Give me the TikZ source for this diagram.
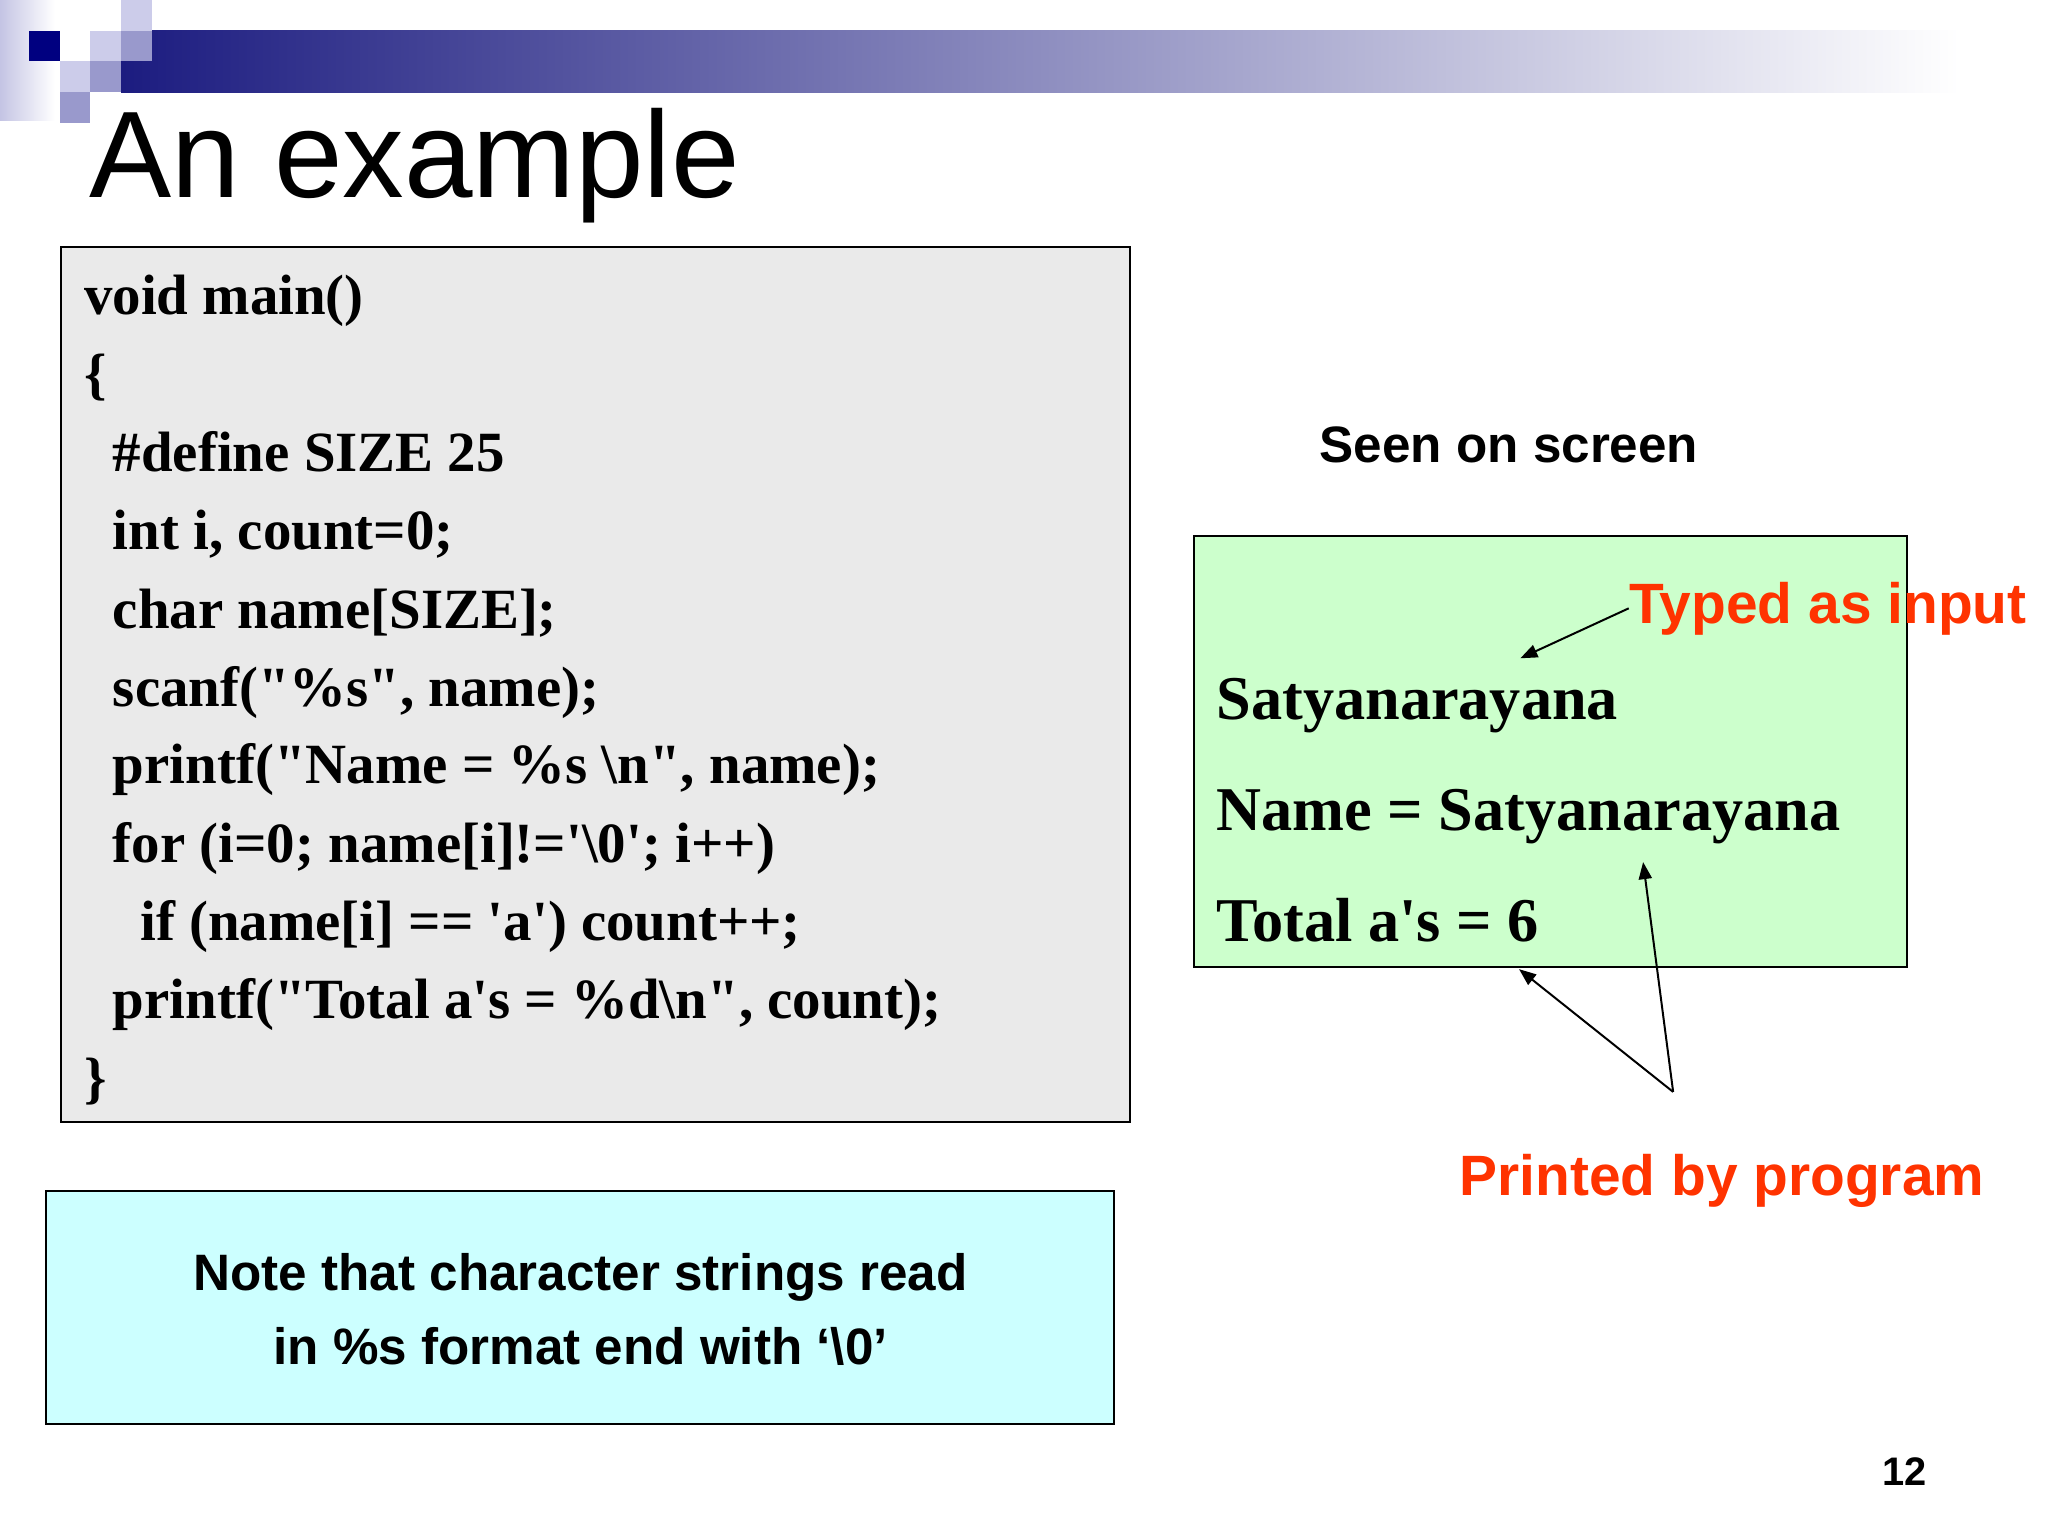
\documentclass[tikz,border=0pt]{standalone}
\usepackage{fontspec}
\newfontfamily\tnr{Liberation Serif}
\newfontfamily\arial{Liberation Sans}
\usetikzlibrary{arrows.meta,fit}
\definecolor{navyA}{RGB}{0,0,128}
\definecolor{barA}{RGB}{28,28,128}
\definecolor{lightsq}{RGB}{204,204,234}
\definecolor{medsq}{RGB}{153,153,204}
\definecolor{stripA}{RGB}{196,196,228}
\definecolor{codefill}{RGB}{234,234,234}
\definecolor{greenfill}{RGB}{204,255,204}
\definecolor{cyanfill}{RGB}{204,255,255}
\definecolor{redtxt}{RGB}{255,51,0}
\begin{document}
\begin{tikzpicture}[x=0.459184pt,y=-0.459184pt,
  box/.style={draw=black, line width=0.7pt, inner sep=0pt},
  codeline/.style={anchor=base west, inner sep=0pt, font=\tnr\bfseries\fontsize{20}{24}\selectfont},
  outline/.style={anchor=base west, inner sep=0pt, font=\tnr\bfseries\fontsize{21.9}{26}\selectfont},
  sanslabel/.style={inner sep=0pt, font=\arial\bfseries\fontsize{18}{22}\selectfont},
  redlabel/.style={anchor=base west, inner sep=0pt, text=redtxt, font=\arial\bfseries\fontsize{20}{24}\selectfont},
  arr/.style={line width=0.7pt, -{Triangle[length=6pt,width=4.6pt]}}]
\useasboundingbox (0,0) rectangle (1568,1176);
\fill[white] (0,0) rectangle (1568,1176);
% header decoration
\shade[left color=stripA, right color=white, draw=none] (0,0) rectangle (42,92);
\shade[left color=barA, right color=white, draw=none] (92.7,23.5) rectangle (1500,70.5);
\fill[lightsq] (92.7,0) rectangle (116.2,23.5);
\fill[navyA] (22.2,23.5) rectangle (45.7,47);
\fill[lightsq] (69.2,23.5) rectangle (92.7,47);
\fill[medsq] (92.7,23.5) rectangle (116.2,47);
\fill[lightsq] (45.7,47) rectangle (69.2,70.5);
\fill[medsq] (69.2,47) rectangle (92.7,70.5);
\fill[medsq] (45.7,70.5) rectangle (69.2,94);
% title
\node[anchor=base west, inner sep=0pt, font=\arial\fontsize{43.3}{50}\selectfont] (title) at (68,151) {An example};
% code box
\coordinate (c1) at (47,189);
\coordinate (c2) at (865,859);
\node[box, fill=codefill, fit=(c1)(c2)] (code) {};
\node[codeline] (l1) at (64,241) {void main()};
\node[codeline] (l2) at (64,301) {\{};
\node[codeline] (l3) at (86,361) {\#define SIZE 25};
\node[codeline] (l4) at (86,421) {int i, count=0;};
\node[codeline] (l5) at (86,481) {char name[SIZE];};
\node[codeline] (l6) at (86,541) {scanf("\%s", name);};
\node[codeline] (l7) at (86,600) {printf("Name = \%s \textbackslash n", name);};
\node[codeline] (l8) at (86,660) {for (i=0; name[i]!='\textbackslash 0'; i++)};
\node[codeline] (l9) at (107,720) {if (name[i] == 'a') count++;};
\node[codeline] (l10) at (86,780) {printf("Total a's = \%d\textbackslash n", count);};
\node[codeline] (l11) at (64,840) {\}};
% note box
\coordinate (n1) at (35,912);
\coordinate (n2) at (853,1090);
\node[box, fill=cyanfill, fit=(n1)(n2)] (note) {};
\node[sanslabel, anchor=base] (note1) at (444.5,988) {Note that character strings read};
\node[sanslabel, anchor=base] (note2) at (444.5,1045) {in \%s format end with ‘\textbackslash 0’};
% screen box
\node[sanslabel, anchor=base west] (seen) at (1010,354) {Seen on screen};
\coordinate (g1) at (914,410);
\coordinate (g2) at (1460,740);
\node[box, fill=greenfill, fit=(g1)(g2)] (screen) {};
\node[outline] (s1) at (931,551) {Satyanarayana};
\node[outline] (s2) at (931,636) {Name = Satyanarayana};
\node[outline] (s3) at (931,721) {Total a's = 6};
\node[redlabel] (typed) at (1247,477) {Typed as input};
\node[redlabel] (printed) at (1117,915) {Printed by program};
% arrows
\coordinate (tA) at (1164,504);
\coordinate (tB) at (1163,742);
\coordinate (tC) at (1258,660);
\coordinate (pv) at (1281,836);
\draw[arr] (typed.west) -- (tA);
\draw[arr] (pv) -- (tB);
\draw[arr] (pv) -- (tC);
% page number
\node[anchor=base west, inner sep=0pt, font=\arial\bfseries\fontsize{14}{17}\selectfont] (page) at (1441,1137) {12};
\end{tikzpicture}
\end{document}
